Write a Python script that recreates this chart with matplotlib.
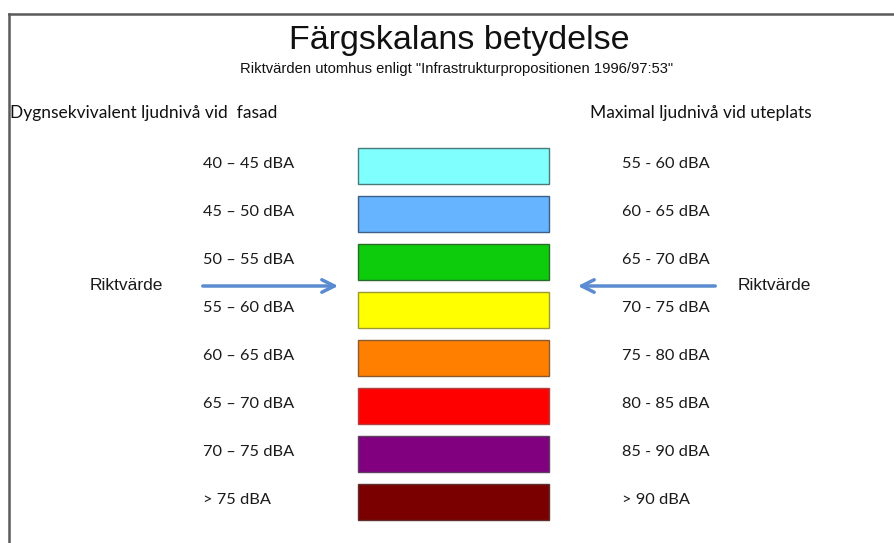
import matplotlib
matplotlib.use("Agg")
import matplotlib.pyplot as plt
from matplotlib.lines import Line2D

title = "Färgskalans betydelse"
subtitle = 'Riktvärden utomhus enligt "Infrastrukturpropositionen 1996/97:53"'
left_header = "Dygnsekvivalent ljudnivå vid  fasad"
right_header = "Maximal ljudnivå vid uteplats"
left_labels = ["40 – 45 dBA", "45 – 50 dBA", "50 – 55 dBA", "55 – 60 dBA",
               "60 – 65 dBA", "65 – 70 dBA", "70 – 75 dBA", "> 75 dBA"]
right_labels = ["55 - 60 dBA", "60 - 65 dBA", "65 - 70 dBA", "70 - 75 dBA",
                "75 - 80 dBA", "80 - 85 dBA", "85 - 90 dBA", "> 90 dBA"]
colors = ["#80ffff", "#66b3ff", "#0ccc0c", "#ffff00",
          "#ff8000", "#ff0000", "#800080", "#7a0000"]
edge_colors = ["#4a7a7a", "#3d5f85", "#2a6a2a", "#9a9a30",
               "#8a5a30", "#b04040", "#604060", "#603030"]
riktvarde = "Riktvärde"
riktvarde_between = 2.5  # arrow sits between row 2 and row 3

W, H = 895, 543
fig = plt.figure(figsize=(W / 100, H / 100), dpi=100)
fig.patch.set_facecolor("white")

# frame (left + top)
fig.add_artist(Line2D([9.5 / W, 9.5 / W], [0, 1 - 13.5 / H], transform=fig.transFigure,
                      color="#5a5a5a", lw=1.8))
fig.add_artist(Line2D([9.5 / W, 1], [1 - 13.5 / H, 1 - 13.5 / H], transform=fig.transFigure,
                      color="#5a5a5a", lw=1.8))

n = len(colors)
row_h = 48
top0 = 142
ax = fig.add_axes([0, 1 - (top0 + n * row_h) / H, 1, n * row_h / H])
ax.set_xlim(0, W)
ax.set_ylim(n - 0.5, -0.5)
ax.axis("off")

rows = list(range(n))
ax.barh(rows, [191] * n, left=358, height=0.75, color=colors,
        edgecolor=edge_colors, linewidth=1.0)

lab_font = ["Lato", "DejaVu Sans"]
for i in rows:
    ax.text(203, i - 0.05, left_labels[i], ha="left", va="center", fontsize=11.8,
            family=lab_font, color="#1a1a1a")
    ax.text(622, i - 0.05, right_labels[i], ha="left", va="center", fontsize=11.8,
            family=lab_font, color="#1a1a1a")

arrow_col = "#5b8bd0"
ax.annotate("", xy=(341, riktvarde_between), xytext=(200, riktvarde_between),
            arrowprops=dict(arrowstyle="->,head_length=0.9,head_width=0.45",
                            color=arrow_col, lw=2.5))
ax.annotate("", xy=(575, riktvarde_between), xytext=(718, riktvarde_between),
            arrowprops=dict(arrowstyle="->,head_length=0.9,head_width=0.45",
                            color=arrow_col, lw=2.5))
ax.text(126, riktvarde_between, riktvarde, ha="center", va="center", fontsize=12.5,
        family=["Liberation Sans", "DejaVu Sans"], color="#1a1a1a")
ax.text(774, riktvarde_between, riktvarde, ha="center", va="center", fontsize=12.5,
        family=["Liberation Sans", "DejaVu Sans"], color="#1a1a1a")

fig.text(459 / W, 1 - 40 / H, title, ha="center", va="center", fontsize=24.5,
         family=["Liberation Sans", "DejaVu Sans"], color="#111111")
fig.text(457 / W, 1 - 69 / H, subtitle, ha="center", va="center", fontsize=10.6,
         family=["Liberation Sans", "DejaVu Sans"], color="#111111")
fig.text(10 / W, 1 - 113 / H, left_header, ha="left", va="center", fontsize=12.5,
         family=lab_font, color="#111111")
fig.text(590 / W, 1 - 113 / H, right_header, ha="left", va="center", fontsize=12.5,
         family=lab_font, color="#111111")

fig.savefig("out.png", dpi=100, facecolor="white")
